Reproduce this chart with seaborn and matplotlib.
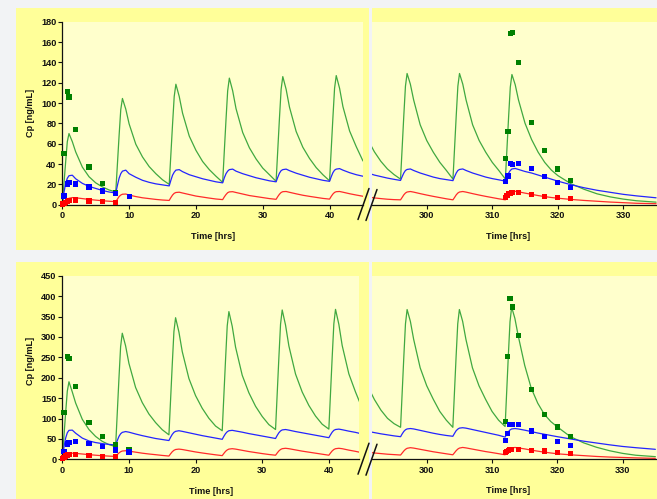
import matplotlib
matplotlib.use("Agg")
import numpy as np
import pandas as pd
import matplotlib.pyplot as plt
import seaborn as sns
from matplotlib.patches import Rectangle
from matplotlib.lines import Line2D

# ---------------- data ----------------
OFFS = [0, 0.25, 0.5, 0.75, 1, 1.5, 2, 3, 4, 5, 6, 7]
LEFT_T = [8 * k + o for k in range(6) for o in OFFS if 8 * k + o <= 45]
RIGHT_T = [291, 292, 293, 294, 295] + [296 + o for o in OFFS] + [304 + o for o in OFFS] + \
          [312 + o for o in OFFS + [8, 10, 12, 14, 16, 18, 20, 23]]

# top-left simulated curves
TL_GREEN = [0, 21, 42, 62, 70, 62, 52, 37, 27.5, 21.5, 17.5, 14.5,
            12.5, 40, 68, 93.5, 104.5, 94, 79.5, 59.5, 47, 37.5, 30.5, 24.5,
            20, 49.5, 79, 106.5, 118.5, 106.5, 90, 67.5, 53.5, 42.5, 34.5, 28,
            22, 53, 83.5, 112, 124.5, 112, 94.5, 71, 56, 45, 36, 29.5,
            23, 54, 85, 113.5, 126, 113.5, 96, 72, 56.5, 45.5, 36.5, 29.5,
            23.5, 54.5, 85.5, 114.5, 127, 114.5, 96.5, 72.5, 57, 43]
TL_BLUE = [0, 12, 21, 26, 28.5, 29, 25.5, 21, 18, 16, 14, 12.5,
           11.5, 19, 26, 30.5, 33, 34, 30.5, 27, 24, 22, 20.5, 19.5,
           18.5, 24, 29, 32, 34, 34.5, 32.5, 29.5, 27.5, 25.5, 24, 22.5,
           21.5, 26.5, 30.5, 33, 34.5, 35, 33, 30.5, 28.5, 26.5, 25, 23.5,
           22.5, 27, 31, 33.5, 34.5, 35, 33.5, 31, 29, 27, 25.5, 24,
           23, 27.5, 31.5, 34, 35, 35.5, 34, 31.5, 29.5, 28]
TL_RED = [0, 2, 4, 5.5, 6.3, 7, 6.8, 6, 5.2, 4.5, 3.9, 3.4,
          3, 5.5, 8, 9.5, 10.3, 10.5, 9.5, 8, 6.8, 6, 5.2, 4.6,
          4.2, 7, 9.5, 11.2, 12, 12.3, 11.5, 10, 8.5, 7.5, 6.5, 5.6,
          5, 7.7, 10, 11.8, 12.6, 12.8, 12, 10.5, 9, 8, 7, 6,
          5.3, 8, 10.3, 12, 12.8, 13, 12.2, 10.7, 9.3, 8.2, 7.2, 6.2,
          5.5, 8.2, 10.5, 12.1, 12.8, 13, 12.3, 10.8, 9.5, 8.3]

# top-right simulated curves
TR_GREEN = [64, 52, 42.5, 35, 29.5,
            25, 56, 87.5, 116.5, 129, 118.5, 103, 78.5, 63, 51.5, 41.5, 33.5,
            25, 56, 87.5, 116.5, 129, 118.5, 103, 78.5, 63, 51.5, 41.5, 33.5,
            25, 56, 87, 115.5, 128, 118, 103, 80, 64, 51.5, 41.5, 34,
            28.5, 20.5, 15, 10.5, 7.5, 5.3, 3.7, 2.3]
TR_BLUE = [31, 29, 27.5, 26, 24.8,
           23.7, 27.5, 31, 33.5, 34.5, 35, 33.5, 31, 29, 27, 25.5, 24.5,
           23.5, 27.5, 31, 33.5, 34.5, 35, 33.5, 31, 29, 27, 25.5, 24.3,
           23, 27, 31, 33.5, 35, 35.5, 34.5, 32.5, 31, 29, 27, 25,
           23, 19.5, 16.5, 14, 12, 10, 8.5, 6.6]
TR_RED = [7.3, 6.5, 5.8, 5.2, 4.8,
          4.6, 7, 9.5, 11.3, 12.3, 12.8, 12.2, 10.7, 9.3, 8, 6.8, 5.6,
          4.6, 7, 9.5, 11.3, 12.3, 12.8, 12.2, 10.7, 9.3, 8, 6.8, 5.6,
          4.6, 7, 9.5, 11.3, 12.4, 13, 12.5, 11.2, 10, 8.8, 7.8, 6.9,
          6.2, 5, 4, 3.2, 2.4, 1.8, 1.2, 0.8]

# bottom-left simulated curves
BL_GREEN = [0, 57, 114, 167, 190, 165, 138, 98, 73, 56, 44, 36,
            31, 114, 198, 276, 309, 278, 235, 176, 139, 111, 90, 72.5,
            60, 146, 232, 313, 347, 312, 264, 198, 156, 125, 100.5, 81.5,
            70, 158, 245, 327, 362, 326, 275, 206, 163, 130, 105, 85,
            73, 161, 249, 331, 366, 329, 278, 209, 165, 132, 106, 86,
            74, 162, 250, 332, 367.5, 331, 279, 209.5, 165, 125]
BL_BLUE = [0, 30, 52, 65, 71, 71.5, 64, 52, 45, 41, 38.5, 36.5,
           35, 46, 56, 62.5, 66, 68, 66.5, 62, 58, 54.5, 51, 48.5,
           46, 54, 61, 66, 68.5, 70, 68.5, 65, 61.5, 58, 55, 52,
           49, 56.5, 63, 67.5, 70, 71, 69.5, 66.5, 63, 60, 57, 54,
           51, 58.5, 65, 69.5, 72, 73, 71.5, 68, 65, 62, 59, 56,
           53, 60, 66.5, 71, 73, 74, 72.5, 69, 66, 62]
BL_RED = [0, 5, 9, 12, 13.5, 15, 14.5, 13, 11.5, 10, 8.8, 7.8,
          7, 11.5, 15.5, 18.5, 20.3, 21, 20, 17.5, 15, 13, 11.3, 9.5,
          8, 13.5, 18.5, 22, 24, 25, 24, 21, 18, 15.5, 13.2, 11,
          9, 14.5, 19.5, 23, 25, 26, 25, 22, 19, 16.5, 14, 11.8,
          10, 15.5, 20.5, 24, 26, 27, 26, 23, 20, 17.5, 15, 12.5,
          10, 15.5, 20.5, 24, 26, 27, 26, 22.5, 19.5, 16]

# bottom-right simulated curves
BR_GREEN = [178, 146, 120, 100, 87,
            78, 165, 252, 332, 367, 338, 294, 224, 180, 147, 117, 95.5,
            78, 165, 252, 332, 367, 338, 294, 224, 180, 147, 117, 95.5,
            80, 168, 256, 337, 373, 345, 303, 230, 174, 137, 110, 92,
            79, 55, 40, 29, 20.5, 14, 9.5, 6]
BR_BLUE = [68, 65, 62, 59.5, 57,
           55, 62, 68, 72, 74, 75, 74, 70.5, 67, 63.5, 60.5, 58,
           56, 63, 69.5, 73.5, 76, 77, 76, 72.5, 69, 65.5, 62, 58.5,
           54, 61, 67, 71.5, 74, 75, 74, 71, 67.5, 64, 61, 58,
           55, 49.5, 44, 39.5, 35, 31, 28, 24]
BR_RED = [17, 15, 13.5, 12, 11,
          10, 15, 20, 24, 26.5, 28, 27, 24, 21, 18, 15.5, 13,
          10.6, 15.5, 20.5, 24.5, 27, 28.6, 27.5, 24.5, 21.5, 18.5, 16, 13.3,
          10.6, 15.5, 20.5, 24.5, 27, 28.6, 27.5, 25, 22, 19.5, 17, 15,
          13, 10.5, 8.5, 6.5, 5, 4, 3, 1.8]

# observed points
TL_OBS_G_T = [0.25, 0.75, 1, 2, 4, 6, 8]
TL_OBS_G = [50, 111, 106, 74, 37, 21, 12]
TL_OBS_B_T = [0.25, 0.75, 1, 2, 4, 6, 8, 10]
TL_OBS_B = [8.5, 20.3, 21.6, 20.3, 17.4, 13.5, 11.2, 7.9]
TL_OBS_R_T = [0, 0.25, 0.5, 0.75, 1, 2, 4, 6, 8]
TL_OBS_R = [0.7, 1.5, 2.5, 3.3, 4, 4.6, 3.6, 3, 2.3]

TR_OBS_G_T = [312, 312.4, 312.75, 313.1, 314, 316, 318, 320, 322]
TR_OBS_G = [45, 72, 168, 169, 140, 81, 53, 35, 24]
TR_OBS_B_T = [312, 312.4, 312.75, 313.1, 314, 316, 318, 320, 322]
TR_OBS_B = [23, 28, 40, 39, 40, 35.5, 27.5, 21.7, 16.8]
TR_OBS_R_T = [312, 312.25, 312.5, 312.75, 313, 314, 316, 318, 320, 322]
TR_OBS_R = [7, 8.5, 10.5, 11, 11.5, 12, 10, 8, 7, 6]

BL_OBS_G_T = [0.25, 0.75, 1, 2, 4, 6, 8, 10]
BL_OBS_G = [114, 251, 247, 178, 91, 55, 35, 24]
BL_OBS_B_T = [0.25, 0.75, 1, 2, 4, 6, 8, 10]
BL_OBS_B = [19.6, 37.6, 41, 43, 39, 32, 23, 18]
BL_OBS_R_T = [0, 0.25, 0.5, 0.75, 1, 2, 4, 6, 8]
BL_OBS_R = [1.5, 5, 8, 10.6, 11.4, 11.4, 9, 6.5, 6.5]

BR_OBS_G_T = [312, 312.4, 312.75, 313.1, 314, 316, 318, 320, 322]
BR_OBS_G = [93, 252, 394, 373, 303, 171.5, 110, 79, 55]
BR_OBS_B_T = [312, 312.4, 312.75, 313.1, 314, 316, 318, 320, 322]
BR_OBS_B = [45, 63, 84, 84, 84, 69, 56, 44, 33.5]
BR_OBS_R_T = [312, 312.25, 312.5, 312.75, 313, 314, 316, 318, 320, 322]
BR_OBS_R = [16, 19, 22, 24, 24, 24.5, 21, 20, 17, 14]

TOP_YTICKS = [0, 20, 40, 60, 80, 100, 120, 140, 160, 180]
BOT_YTICKS = [0, 50, 100, 150, 200, 250, 300, 350, 400, 450]
LEFT_XTICKS = [0, 10, 20, 30, 40]
RIGHT_XTICKS = [300, 310, 320, 330]
YLABEL = "Cp [ng/mL]"
XLABEL = "Time [hrs]"

# ---------------- style ----------------
sns.set_style("white")
plt.rcParams['font.family'] = ['Liberation Sans', 'DejaVu Sans']
plt.rcParams['font.weight'] = 'bold'

PAGE = '#F2F3F5'
YEL = '#FFFF99'
INNER = '#FFFFCC'
LINE_COLORS = {'green': '#40A840', 'blue': '#2424FF', 'red': '#FF2A2A'}
MARK_COLORS = {'green': '#008000', 'blue': '#0000FF', 'red': '#FF0000'}

W, H = 657, 499
fig = plt.figure(figsize=(W / 100, H / 100), dpi=100)
fig.patch.set_facecolor(PAGE)


def fig_rect(x0, y0, x1, y1):
    return [x0 / W, 1 - y1 / H, (x1 - x0) / W, (y1 - y0) / H]


for (x0, y0, x1, y1) in [(16, 8, 369, 250), (372, 8, 657, 250),
                         (16, 262, 369, 499), (372, 262, 657, 499)]:
    r = fig_rect(x0, y0, x1, y1)
    fig.add_artist(Rectangle((r[0], r[1]), r[2], r[3], transform=fig.transFigure,
                             facecolor=YEL, edgecolor='none', zorder=-5))


def build(times, g, b, r):
    return pd.DataFrame({
        'time': list(times) * 3,
        'cp': list(g) + list(b) + list(r),
        'series': ['green'] * len(g) + ['blue'] * len(b) + ['red'] * len(r)})


def build_obs(gt, g, bt, b, rt, r):
    return pd.DataFrame({
        'time': list(gt) + list(bt) + list(rt),
        'cp': list(g) + list(b) + list(r),
        'series': ['green'] * len(g) + ['blue'] * len(b) + ['red'] * len(r)})


panels = [
    dict(rect=fig_rect(62.3, 21.7, 363.3, 204.7), xlim=(0, 45.05), ylim=(0, 180),
         yticks=TOP_YTICKS, xticks=LEFT_XTICKS, left=True,
         curves=build(LEFT_T, TL_GREEN, TL_BLUE, TL_RED),
         obs=build_obs(TL_OBS_G_T, TL_OBS_G, TL_OBS_B_T, TL_OBS_B, TL_OBS_R_T, TL_OBS_R),
         xlab=(0.5, -0.1727), ylab=(-0.105, 0.5)),
    dict(rect=fig_rect(371.7, 21.7, 657, 204.5), xlim=(291.6, 335.14), ylim=(0, 180),
         yticks=[], xticks=RIGHT_XTICKS, left=False,
         curves=build(RIGHT_T, TR_GREEN, TR_BLUE, TR_RED),
         obs=build_obs(TR_OBS_G_T, TR_OBS_G, TR_OBS_B_T, TR_OBS_B, TR_OBS_R_T, TR_OBS_R),
         xlab=(0.478, -0.1727), ylab=None),
    dict(rect=fig_rect(62.3, 275.7, 359.5, 459.3), xlim=(0, 44.6), ylim=(0, 450),
         yticks=BOT_YTICKS, xticks=LEFT_XTICKS, left=True,
         curves=build(LEFT_T, BL_GREEN, BL_BLUE, BL_RED),
         obs=build_obs(BL_OBS_G_T, BL_OBS_G, BL_OBS_B_T, BL_OBS_B, BL_OBS_R_T, BL_OBS_R),
         xlab=(0.5, -0.1727), ylab=(-0.106, 0.535)),
    dict(rect=fig_rect(371.7, 275.7, 657, 459.1), xlim=(291.58, 335.25), ylim=(0, 450),
         yticks=[], xticks=RIGHT_XTICKS, left=False,
         curves=build(RIGHT_T, BR_GREEN, BR_BLUE, BR_RED),
         obs=build_obs(BR_OBS_G_T, BR_OBS_G, BR_OBS_B_T, BR_OBS_B, BR_OBS_R_T, BR_OBS_R),
         xlab=(0.478, -0.1727), ylab=None),
]

FS = 6.6
for p in panels:
    ax = fig.add_axes(p['rect'])
    ax.set_facecolor(INNER)
    sns.lineplot(data=p['curves'], x='time', y='cp', hue='series', palette=LINE_COLORS,
                 estimator=None, sort=False, linewidth=0.9, legend=False, ax=ax)
    sns.scatterplot(data=p['obs'], x='time', y='cp', hue='series', palette=MARK_COLORS,
                    marker='s', s=14, linewidth=0, legend=False, ax=ax,
                    clip_on=False, zorder=4)
    ax.set_xlim(*p['xlim'])
    ax.set_ylim(*p['ylim'])
    ax.set_xticks(p['xticks'])
    ax.set_xticklabels([str(t) for t in p['xticks']], fontsize=FS, fontweight='bold')
    for s in ['top', 'right']:
        ax.spines[s].set_visible(False)
    ax.spines['bottom'].set_color('#111111')
    ax.spines['bottom'].set_linewidth(0.9)
    ax.tick_params(axis='x', direction='out', length=3, width=0.8, pad=1.8,
                   colors='#111111', bottom=True)
    if p['left']:
        ax.set_yticks(p['yticks'])
        ax.set_yticklabels([str(t) for t in p['yticks']], fontsize=FS, fontweight='bold')
        ax.spines['left'].set_color('#111111')
        ax.spines['left'].set_linewidth(0.9)
        ax.tick_params(axis='y', direction='out', length=3, width=0.8, pad=1.2,
                       colors='#111111', left=True)
        ax.set_ylabel(YLABEL, fontsize=FS, fontweight='bold', color='#111111')
        ax.yaxis.set_label_coords(*p['ylab'])
        ax.yaxis.label.set_va('center')
    else:
        ax.spines['left'].set_visible(False)
        ax.set_yticks([])
        ax.set_ylabel('')
    ax.set_xlabel(XLABEL, fontsize=FS, fontweight='bold', color='#111111')
    ax.xaxis.set_label_coords(*p['xlab'])
    ax.xaxis.label.set_va('center')
    ax.grid(False)

# axis-break marks
for yc in (204.5, 459.2):
    for (xa, ya, xb, yb) in [(358, 15, 369, -16), (366, 16, 377, -15)]:
        fig.add_artist(Line2D([xa / W, xb / W], [1 - (yc + ya) / H, 1 - (yc + yb) / H],
                              transform=fig.transFigure, color='#111111', lw=1.1, zorder=10))

fig.savefig('out.png', dpi=100, facecolor=fig.get_facecolor())
